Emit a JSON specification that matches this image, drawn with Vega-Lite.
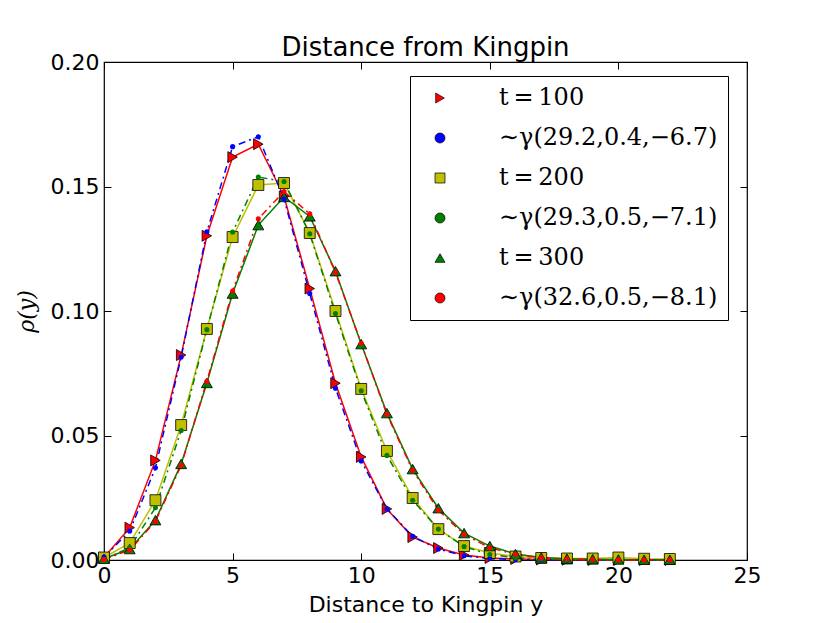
{
  "$schema": "https://vega.github.io/schema/vega-lite/v6.json",
  "width": 643,
  "height": 498,
  "autosize": {"type": "none"},
  "padding": {"left": 104, "top": 62, "right": 83, "bottom": 63},
  "background": "white",
  "title": {"text": "Distance from Kingpin", "font": "DejaVu Sans", "fontSize": 26, "fontWeight": "normal", "color": "black", "anchor": "middle", "offset": -36, "baseline": "bottom"},
  "datasets": {
    "obs": [
      {"x": 0, "y": 0.001, "s": "t\u2009=\u2009100"}, {"x": 1, "y": 0.0130, "s": "t\u2009=\u2009100"}, {"x": 2, "y": 0.040, "s": "t\u2009=\u2009100"}, {"x": 3, "y": 0.0823, "s": "t\u2009=\u2009100"}, {"x": 4, "y": 0.1302, "s": "t\u2009=\u2009100"}, {"x": 5, "y": 0.1618, "s": "t\u2009=\u2009100"}, {"x": 6, "y": 0.167, "s": "t\u2009=\u2009100"}, {"x": 7, "y": 0.146, "s": "t\u2009=\u2009100"}, {"x": 8, "y": 0.109, "s": "t\u2009=\u2009100"}, {"x": 9, "y": 0.071, "s": "t\u2009=\u2009100"}, {"x": 10, "y": 0.0414, "s": "t\u2009=\u2009100"}, {"x": 11, "y": 0.0205, "s": "t\u2009=\u2009100"}, {"x": 12, "y": 0.0092, "s": "t\u2009=\u2009100"}, {"x": 13, "y": 0.0048, "s": "t\u2009=\u2009100"}, {"x": 14, "y": 0.002, "s": "t\u2009=\u2009100"}, {"x": 15, "y": 0.0008, "s": "t\u2009=\u2009100"}, {"x": 16, "y": 0.0004, "s": "t\u2009=\u2009100"}, {"x": 17, "y": 0.0002, "s": "t\u2009=\u2009100"}, {"x": 18, "y": 0.0001, "s": "t\u2009=\u2009100"}, {"x": 19, "y": 0.0, "s": "t\u2009=\u2009100"}, {"x": 20, "y": 0.0, "s": "t\u2009=\u2009100"}, {"x": 21, "y": 0.0, "s": "t\u2009=\u2009100"}, {"x": 22, "y": 0.0, "s": "t\u2009=\u2009100"},
      {"x": 0, "y": 0.001, "s": "t\u2009=\u2009200"}, {"x": 1, "y": 0.0068, "s": "t\u2009=\u2009200"}, {"x": 2, "y": 0.024, "s": "t\u2009=\u2009200"}, {"x": 3, "y": 0.0542, "s": "t\u2009=\u2009200"}, {"x": 4, "y": 0.0928, "s": "t\u2009=\u2009200"}, {"x": 5, "y": 0.1297, "s": "t\u2009=\u2009200"}, {"x": 6, "y": 0.1506, "s": "t\u2009=\u2009200"}, {"x": 7, "y": 0.1514, "s": "t\u2009=\u2009200"}, {"x": 8, "y": 0.1313, "s": "t\u2009=\u2009200"}, {"x": 9, "y": 0.100, "s": "t\u2009=\u2009200"}, {"x": 10, "y": 0.0687, "s": "t\u2009=\u2009200"}, {"x": 11, "y": 0.0438, "s": "t\u2009=\u2009200"}, {"x": 12, "y": 0.0249, "s": "t\u2009=\u2009200"}, {"x": 13, "y": 0.0124, "s": "t\u2009=\u2009200"}, {"x": 14, "y": 0.0056, "s": "t\u2009=\u2009200"}, {"x": 15, "y": 0.0028, "s": "t\u2009=\u2009200"}, {"x": 16, "y": 0.0014, "s": "t\u2009=\u2009200"}, {"x": 17, "y": 0.0008, "s": "t\u2009=\u2009200"}, {"x": 18, "y": 0.0006, "s": "t\u2009=\u2009200"}, {"x": 19, "y": 0.0006, "s": "t\u2009=\u2009200"}, {"x": 20, "y": 0.0010, "s": "t\u2009=\u2009200"}, {"x": 21, "y": 0.0005, "s": "t\u2009=\u2009200"}, {"x": 22, "y": 0.0004, "s": "t\u2009=\u2009200"},
      {"x": 0, "y": 0.0005, "s": "t\u2009=\u2009300"}, {"x": 1, "y": 0.0044, "s": "t\u2009=\u2009300"}, {"x": 2, "y": 0.016, "s": "t\u2009=\u2009300"}, {"x": 3, "y": 0.0386, "s": "t\u2009=\u2009300"}, {"x": 4, "y": 0.0711, "s": "t\u2009=\u2009300"}, {"x": 5, "y": 0.107, "s": "t\u2009=\u2009300"}, {"x": 6, "y": 0.1345, "s": "t\u2009=\u2009300"}, {"x": 7, "y": 0.1458, "s": "t\u2009=\u2009300"}, {"x": 8, "y": 0.138, "s": "t\u2009=\u2009300"}, {"x": 9, "y": 0.116, "s": "t\u2009=\u2009300"}, {"x": 10, "y": 0.0867, "s": "t\u2009=\u2009300"}, {"x": 11, "y": 0.059, "s": "t\u2009=\u2009300"}, {"x": 12, "y": 0.0365, "s": "t\u2009=\u2009300"}, {"x": 13, "y": 0.0208, "s": "t\u2009=\u2009300"}, {"x": 14, "y": 0.0108, "s": "t\u2009=\u2009300"}, {"x": 15, "y": 0.0056, "s": "t\u2009=\u2009300"}, {"x": 16, "y": 0.0024, "s": "t\u2009=\u2009300"}, {"x": 17, "y": 0.0010, "s": "t\u2009=\u2009300"}, {"x": 18, "y": 0.0005, "s": "t\u2009=\u2009300"}, {"x": 19, "y": 0.0003, "s": "t\u2009=\u2009300"}, {"x": 20, "y": 0.0002, "s": "t\u2009=\u2009300"}, {"x": 21, "y": 0.0001, "s": "t\u2009=\u2009300"}, {"x": 22, "y": 0.0001, "s": "t\u2009=\u2009300"}
    ],
    "fit": [
      {"x": 0, "y": 0.0012, "s": "\u00a0\u00a0∼γ(29.2,0.4,−6.7)"}, {"x": 1, "y": 0.0116, "s": "\u00a0\u00a0∼γ(29.2,0.4,−6.7)"}, {"x": 2, "y": 0.037, "s": "\u00a0\u00a0∼γ(29.2,0.4,−6.7)"}, {"x": 3, "y": 0.0815, "s": "\u00a0\u00a0∼γ(29.2,0.4,−6.7)"}, {"x": 4, "y": 0.1318, "s": "\u00a0\u00a0∼γ(29.2,0.4,−6.7)"}, {"x": 5, "y": 0.166, "s": "\u00a0\u00a0∼γ(29.2,0.4,−6.7)"}, {"x": 6, "y": 0.170, "s": "\u00a0\u00a0∼γ(29.2,0.4,−6.7)"}, {"x": 7, "y": 0.145, "s": "\u00a0\u00a0∼γ(29.2,0.4,−6.7)"}, {"x": 8, "y": 0.107, "s": "\u00a0\u00a0∼γ(29.2,0.4,−6.7)"}, {"x": 9, "y": 0.069, "s": "\u00a0\u00a0∼γ(29.2,0.4,−6.7)"}, {"x": 10, "y": 0.0398, "s": "\u00a0\u00a0∼γ(29.2,0.4,−6.7)"}, {"x": 11, "y": 0.0205, "s": "\u00a0\u00a0∼γ(29.2,0.4,−6.7)"}, {"x": 12, "y": 0.0095, "s": "\u00a0\u00a0∼γ(29.2,0.4,−6.7)"}, {"x": 13, "y": 0.0044, "s": "\u00a0\u00a0∼γ(29.2,0.4,−6.7)"}, {"x": 14, "y": 0.0017, "s": "\u00a0\u00a0∼γ(29.2,0.4,−6.7)"}, {"x": 15, "y": 0.0006, "s": "\u00a0\u00a0∼γ(29.2,0.4,−6.7)"}, {"x": 16, "y": 0.0002, "s": "\u00a0\u00a0∼γ(29.2,0.4,−6.7)"}, {"x": 17, "y": 0.0001, "s": "\u00a0\u00a0∼γ(29.2,0.4,−6.7)"}, {"x": 18, "y": 0.0, "s": "\u00a0\u00a0∼γ(29.2,0.4,−6.7)"}, {"x": 19, "y": 0.0, "s": "\u00a0\u00a0∼γ(29.2,0.4,−6.7)"}, {"x": 20, "y": 0.0, "s": "\u00a0\u00a0∼γ(29.2,0.4,−6.7)"}, {"x": 21, "y": 0.0, "s": "\u00a0\u00a0∼γ(29.2,0.4,−6.7)"}, {"x": 22, "y": 0.0, "s": "\u00a0\u00a0∼γ(29.2,0.4,−6.7)"},
      {"x": 0, "y": 0.0003, "s": "\u00a0\u00a0∼γ(29.3,0.5,−7.1)"}, {"x": 1, "y": 0.005, "s": "\u00a0\u00a0∼γ(29.3,0.5,−7.1)"}, {"x": 2, "y": 0.021, "s": "\u00a0\u00a0∼γ(29.3,0.5,−7.1)"}, {"x": 3, "y": 0.052, "s": "\u00a0\u00a0∼γ(29.3,0.5,−7.1)"}, {"x": 4, "y": 0.0925, "s": "\u00a0\u00a0∼γ(29.3,0.5,−7.1)"}, {"x": 5, "y": 0.1317, "s": "\u00a0\u00a0∼γ(29.3,0.5,−7.1)"}, {"x": 6, "y": 0.1538, "s": "\u00a0\u00a0∼γ(29.3,0.5,−7.1)"}, {"x": 7, "y": 0.152, "s": "\u00a0\u00a0∼γ(29.3,0.5,−7.1)"}, {"x": 8, "y": 0.131, "s": "\u00a0\u00a0∼γ(29.3,0.5,−7.1)"}, {"x": 9, "y": 0.099, "s": "\u00a0\u00a0∼γ(29.3,0.5,−7.1)"}, {"x": 10, "y": 0.068, "s": "\u00a0\u00a0∼γ(29.3,0.5,−7.1)"}, {"x": 11, "y": 0.042, "s": "\u00a0\u00a0∼γ(29.3,0.5,−7.1)"}, {"x": 12, "y": 0.024, "s": "\u00a0\u00a0∼γ(29.3,0.5,−7.1)"}, {"x": 13, "y": 0.0124, "s": "\u00a0\u00a0∼γ(29.3,0.5,−7.1)"}, {"x": 14, "y": 0.0054, "s": "\u00a0\u00a0∼γ(29.3,0.5,−7.1)"}, {"x": 15, "y": 0.0022, "s": "\u00a0\u00a0∼γ(29.3,0.5,−7.1)"}, {"x": 16, "y": 0.0009, "s": "\u00a0\u00a0∼γ(29.3,0.5,−7.1)"}, {"x": 17, "y": 0.0004, "s": "\u00a0\u00a0∼γ(29.3,0.5,−7.1)"}, {"x": 18, "y": 0.0002, "s": "\u00a0\u00a0∼γ(29.3,0.5,−7.1)"}, {"x": 19, "y": 0.0001, "s": "\u00a0\u00a0∼γ(29.3,0.5,−7.1)"}, {"x": 20, "y": 0.0, "s": "\u00a0\u00a0∼γ(29.3,0.5,−7.1)"}, {"x": 21, "y": 0.0, "s": "\u00a0\u00a0∼γ(29.3,0.5,−7.1)"}, {"x": 22, "y": 0.0, "s": "\u00a0\u00a0∼γ(29.3,0.5,−7.1)"},
      {"x": 0, "y": 0.0002, "s": "\u00a0\u00a0∼γ(32.6,0.5,−8.1)"}, {"x": 1, "y": 0.004, "s": "\u00a0\u00a0∼γ(32.6,0.5,−8.1)"}, {"x": 2, "y": 0.0155, "s": "\u00a0\u00a0∼γ(32.6,0.5,−8.1)"}, {"x": 3, "y": 0.038, "s": "\u00a0\u00a0∼γ(32.6,0.5,−8.1)"}, {"x": 4, "y": 0.0718, "s": "\u00a0\u00a0∼γ(32.6,0.5,−8.1)"}, {"x": 5, "y": 0.108, "s": "\u00a0\u00a0∼γ(32.6,0.5,−8.1)"}, {"x": 6, "y": 0.137, "s": "\u00a0\u00a0∼γ(32.6,0.5,−8.1)"}, {"x": 7, "y": 0.148, "s": "\u00a0\u00a0∼γ(32.6,0.5,−8.1)"}, {"x": 8, "y": 0.139, "s": "\u00a0\u00a0∼γ(32.6,0.5,−8.1)"}, {"x": 9, "y": 0.1155, "s": "\u00a0\u00a0∼γ(32.6,0.5,−8.1)"}, {"x": 10, "y": 0.087, "s": "\u00a0\u00a0∼γ(32.6,0.5,−8.1)"}, {"x": 11, "y": 0.0585, "s": "\u00a0\u00a0∼γ(32.6,0.5,−8.1)"}, {"x": 12, "y": 0.036, "s": "\u00a0\u00a0∼γ(32.6,0.5,−8.1)"}, {"x": 13, "y": 0.020, "s": "\u00a0\u00a0∼γ(32.6,0.5,−8.1)"}, {"x": 14, "y": 0.0103, "s": "\u00a0\u00a0∼γ(32.6,0.5,−8.1)"}, {"x": 15, "y": 0.0049, "s": "\u00a0\u00a0∼γ(32.6,0.5,−8.1)"}, {"x": 16, "y": 0.0022, "s": "\u00a0\u00a0∼γ(32.6,0.5,−8.1)"}, {"x": 17, "y": 0.0009, "s": "\u00a0\u00a0∼γ(32.6,0.5,−8.1)"}, {"x": 18, "y": 0.0004, "s": "\u00a0\u00a0∼γ(32.6,0.5,−8.1)"}, {"x": 19, "y": 0.0001, "s": "\u00a0\u00a0∼γ(32.6,0.5,−8.1)"}, {"x": 20, "y": 0.0, "s": "\u00a0\u00a0∼γ(32.6,0.5,−8.1)"}, {"x": 21, "y": 0.0, "s": "\u00a0\u00a0∼γ(32.6,0.5,−8.1)"}, {"x": 22, "y": 0.0, "s": "\u00a0\u00a0∼γ(32.6,0.5,−8.1)"}
    ]
  },
  "layer": [
    {
      "data": {"name": "obs"},
      "mark": {"type": "line", "strokeWidth": 1.5},
      "encoding": {
        "x": {"field": "x", "type": "quantitative", "scale": {"domain": [0, 25], "nice": false, "zero": false},
              "axis": {"orient": "bottom", "values": [0, 5, 10, 15, 20, 25], "title": "Distance to Kingpin y", "titlePadding": 8}},
        "y": {"field": "y", "type": "quantitative", "scale": {"domain": [0, 0.2], "nice": false},
              "axis": {"orient": "left", "values": [0, 0.05, 0.1, 0.15, 0.2], "format": ".2f", "title": "ρ(y)", "titleFont": "DejaVu Serif", "titleFontStyle": "italic", "titlePadding": 12}},
        "stroke": {"field": "s", "type": "nominal", "legend": null,
          "scale": {
            "domain": ["t\u2009=\u2009100", "t\u2009=\u2009200", "t\u2009=\u2009300", "\u00a0\u00a0∼γ(29.2,0.4,−6.7)", "\u00a0\u00a0∼γ(29.3,0.5,−7.1)", "\u00a0\u00a0∼γ(32.6,0.5,−8.1)"],
            "range": ["#ff0000", "#bfbf00", "#008000", "#0000ff", "#008000", "#ff0000"]
          }},
        "detail": {"field": "s"}
      }
    },
    {
      "data": {"name": "fit"},
      "mark": {"type": "line", "strokeWidth": 1.5, "strokeDash": [7, 4, 2, 4]},
      "encoding": {
        "x": {"field": "x", "type": "quantitative", "axis": {"orient": "top", "values": [0, 5, 10, 15, 20, 25], "labels": false, "title": null}},
        "y": {"field": "y", "type": "quantitative", "axis": {"orient": "right", "values": [0, 0.05, 0.1, 0.15, 0.2], "labels": false, "title": null}},
        "stroke": {"field": "s", "type": "nominal", "legend": null},
        "detail": {"field": "s"}
      }
    },
    {
      "data": {"name": "obs"},
      "mark": {"type": "point", "filled": true, "opacity": 1, "size": 120, "stroke": "black", "strokeWidth": 0.8},
      "encoding": {
        "x": {"field": "x", "type": "quantitative", "axis": null},
        "y": {"field": "y", "type": "quantitative", "axis": null},
        "color": {
          "field": "s", "type": "nominal",
          "scale": {
            "domain": ["t\u2009=\u2009100", "\u00a0\u00a0∼γ(29.2,0.4,−6.7)", "t\u2009=\u2009200", "\u00a0\u00a0∼γ(29.3,0.5,−7.1)", "t\u2009=\u2009300", "\u00a0\u00a0∼γ(32.6,0.5,−8.1)"],
            "range": ["#ff0000", "#0000ff", "#bfbf00", "#008000", "#008000", "#ff0000"]
          },
          "legend": {
            "title": null,
            "orient": "none",
            "legendX": 306,
            "legendY": 14,
            "direction": "vertical",
            "padding": 10,
            "strokeColor": "black",
            "fillColor": "white",
            "labelFont": "DejaVu Serif",
            "labelFontSize": 24,
            "labelColor": "black",
            "labelLimit": 400,
            "labelOffset": 47,
            "symbolSize": 100,
            "symbolOffset": 8,
            "symbolStrokeWidth": 0.7,
            "rowPadding": 16
          }
        },
        "shape": {
          "field": "s", "type": "nominal",
          "scale": {
            "domain": ["t\u2009=\u2009100", "\u00a0\u00a0∼γ(29.2,0.4,−6.7)", "t\u2009=\u2009200", "\u00a0\u00a0∼γ(29.3,0.5,−7.1)", "t\u2009=\u2009300", "\u00a0\u00a0∼γ(32.6,0.5,−8.1)"],
            "range": ["triangle-right", "circle", "square", "circle", "triangle-up", "circle"]
          }
        }
      }
    },
    {
      "data": {"name": "fit"},
      "mark": {"type": "point", "filled": true, "opacity": 1, "size": 26, "shape": "circle"},
      "encoding": {
        "x": {"field": "x", "type": "quantitative", "axis": null},
        "y": {"field": "y", "type": "quantitative", "axis": null},
        "fill": {"field": "s", "type": "nominal", "legend": null,
          "scale": {
            "domain": ["\u00a0\u00a0∼γ(29.2,0.4,−6.7)", "\u00a0\u00a0∼γ(29.3,0.5,−7.1)", "\u00a0\u00a0∼γ(32.6,0.5,−8.1)"],
            "range": ["#0000ff", "#008000", "#ff0000"]
          }}
      }
    }
  ],
  "resolve": {"axis": {"x": "independent", "y": "independent"}},
  "config": {
    "font": "DejaVu Sans",
    "view": {"stroke": "black", "strokeWidth": 1.2},
    "axis": {
      "grid": false,
      "domain": false,
      "ticks": true,
      "tickSize": -7,
      "tickColor": "black",
      "tickWidth": 1,
      "labelFont": "DejaVu Sans",
      "labelFontSize": 22,
      "labelColor": "black",
      "labelPadding": 12,
      "labelFlush": false,
      "labelOverlap": false,
      "titleFont": "DejaVu Sans",
      "titleFontSize": 22,
      "titleFontWeight": "normal",
      "titleColor": "black"
    },
    "legend": {"cornerRadius": 0}
  }
}
